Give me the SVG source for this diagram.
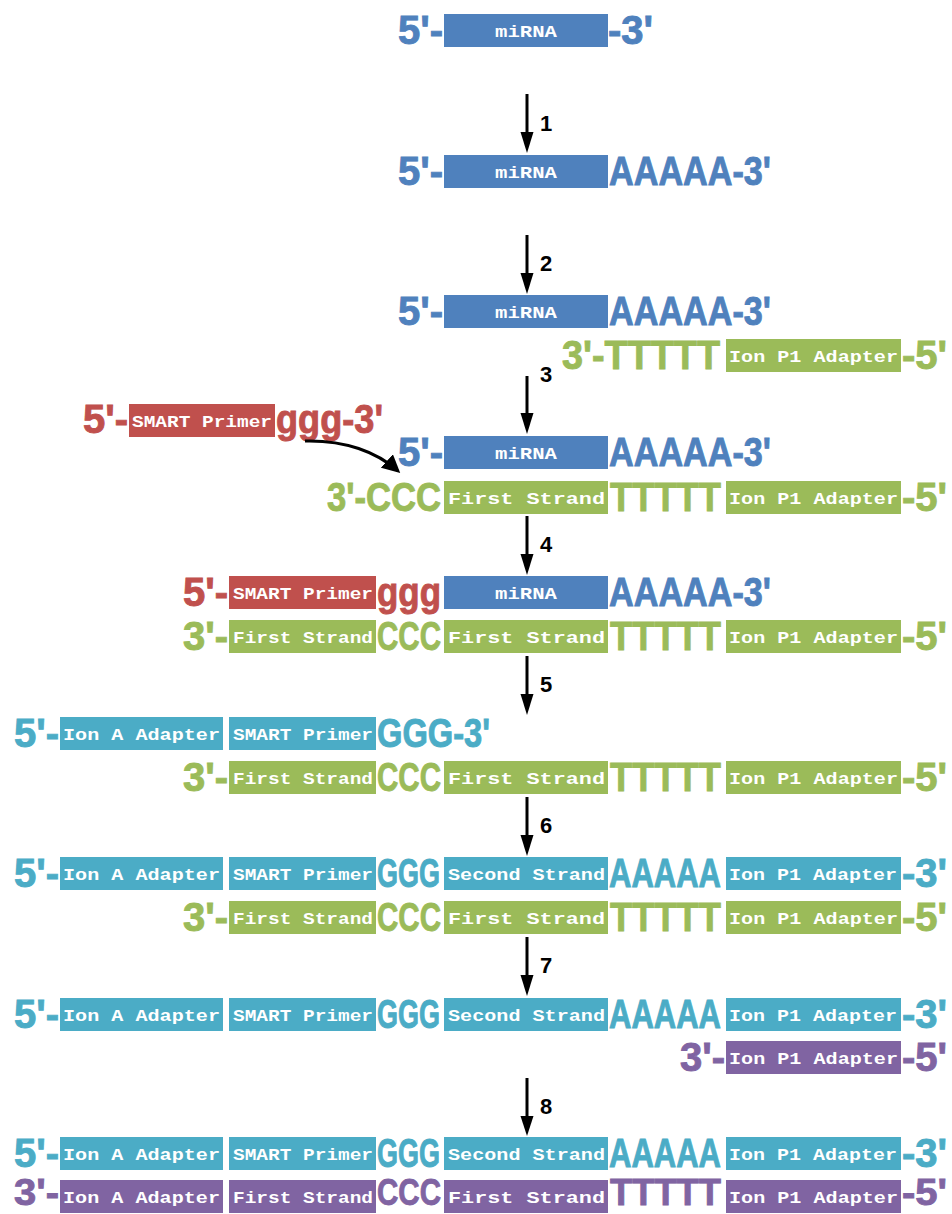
<svg xmlns="http://www.w3.org/2000/svg" width="952" height="1214" viewBox="0 0 952 1214">
<style>
.big{font-family:"Liberation Sans",Arial,sans-serif;font-weight:bold;font-size:40px;stroke-width:0.9}
.bx{font-family:"Liberation Mono","Courier New",monospace;font-weight:bold;font-size:17px;fill:#fff}
.num{font-family:"Liberation Sans",Arial,sans-serif;font-weight:bold;font-size:22px;fill:#000}
.cB{fill:#4F81BD;stroke:#4F81BD}.cG{fill:#9BBB59;stroke:#9BBB59}.cR{fill:#C0504D;stroke:#C0504D}.cT{fill:#4BACC6;stroke:#4BACC6}.cP{fill:#8064A2;stroke:#8064A2}
rect{stroke-width:0}
.sm{font-size:37px}
</style>
<defs>
<marker id="ah" markerWidth="6" markerHeight="6" refX="5" refY="3" orient="auto" markerUnits="strokeWidth">
<path d="M0,0 L6,3 L0,6 z" fill="#000"/>
</marker>
</defs>

<g id="r1-mirna">
<text class="big cB" x="443" y="44" text-anchor="end">5'-</text>
<rect class="cB" x="444" y="14" width="164" height="33"/>
<text class="bx" x="526" y="37" text-anchor="middle" textLength="62" lengthAdjust="spacingAndGlyphs">miRNA</text>
<text class="big cB" x="608" y="44">-3'</text>
</g>

<g id="r2-mirna">
<text class="big cB" x="443" y="185" text-anchor="end">5'-</text>
<rect class="cB" x="444" y="155" width="164" height="33"/>
<text class="bx" x="526" y="178" text-anchor="middle" textLength="62" lengthAdjust="spacingAndGlyphs">miRNA</text>
<text class="big cB" x="609" y="185" textLength="162" lengthAdjust="spacingAndGlyphs">AAAAA-3'</text>
</g>

<g id="r3-mirna">
<text class="big cB" x="443" y="325" text-anchor="end">5'-</text>
<rect class="cB" x="444" y="295" width="164" height="33"/>
<text class="bx" x="526" y="318" text-anchor="middle" textLength="62" lengthAdjust="spacingAndGlyphs">miRNA</text>
<text class="big cB" x="609" y="325" textLength="162" lengthAdjust="spacingAndGlyphs">AAAAA-3'</text>
</g>
<g id="r3-adapter">
<text class="big cG" x="562" y="369" textLength="158" lengthAdjust="spacingAndGlyphs">3'-TTTTT</text>
<rect class="cG" x="726" y="339" width="175" height="33"/>
<text class="bx" x="729" y="362" textLength="169" lengthAdjust="spacingAndGlyphs">Ion P1 Adapter</text>
<text class="big cG" x="902" y="369">-5'</text>
</g>

<g id="r4-smart">
<text class="big cR" x="128" y="433" text-anchor="end">5'-</text>
<rect class="cR" x="129" y="404" width="146" height="33"/>
<text class="bx" x="132" y="427" textLength="140" lengthAdjust="spacingAndGlyphs">SMART Primer</text>
<text class="big cR" x="276" y="433" textLength="107" lengthAdjust="spacingAndGlyphs">ggg-3'</text>
</g>
<g id="r4-mirna">
<text class="big cB" x="443" y="466" text-anchor="end">5'-</text>
<rect class="cB" x="444" y="436" width="164" height="33"/>
<text class="bx" x="526" y="459" text-anchor="middle" textLength="62" lengthAdjust="spacingAndGlyphs">miRNA</text>
<text class="big cB" x="609" y="466" textLength="162" lengthAdjust="spacingAndGlyphs">AAAAA-3'</text>
</g>
<g id="r4-first">
<text class="big cG" x="327" y="511" textLength="114" lengthAdjust="spacingAndGlyphs">3'-CCC</text>
<rect class="cG" x="444" y="481" width="164" height="33"/>
<text class="bx" x="448" y="504" textLength="157" lengthAdjust="spacingAndGlyphs">First Strand</text>
<text class="big cG" x="610" y="511" textLength="111" lengthAdjust="spacingAndGlyphs">TTTTT</text>
<rect class="cG" x="726" y="481" width="175" height="33"/>
<text class="bx" x="729" y="504" textLength="169" lengthAdjust="spacingAndGlyphs">Ion P1 Adapter</text>
<text class="big cG" x="902" y="511">-5'</text>
</g>

<g id="r5-top">
<text class="big cR" x="228" y="606" text-anchor="end">5'-</text>
<rect class="cR" x="229" y="576" width="147" height="33"/>
<text class="bx" x="233" y="599" textLength="140" lengthAdjust="spacingAndGlyphs">SMART Primer</text>
<text class="big cR" x="377" y="606" textLength="64" lengthAdjust="spacingAndGlyphs">ggg</text>
<rect class="cB" x="444" y="576" width="164" height="33"/>
<text class="bx" x="526" y="599" text-anchor="middle" textLength="62" lengthAdjust="spacingAndGlyphs">miRNA</text>
<text class="big cB" x="609" y="606" textLength="162" lengthAdjust="spacingAndGlyphs">AAAAA-3'</text>
</g>
<g id="r5-bottom">
<text class="big cG" x="228" y="650" text-anchor="end">3'-</text>
<rect class="cG" x="229" y="620" width="147" height="33"/>
<text class="bx" x="233" y="643" textLength="140" lengthAdjust="spacingAndGlyphs">First Strand</text>
<text class="big cG" x="377" y="650" textLength="64" lengthAdjust="spacingAndGlyphs">CCC</text>
<rect class="cG" x="444" y="620" width="164" height="33"/>
<text class="bx" x="448" y="643" textLength="157" lengthAdjust="spacingAndGlyphs">First Strand</text>
<text class="big cG" x="610" y="650" textLength="111" lengthAdjust="spacingAndGlyphs">TTTTT</text>
<rect class="cG" x="726" y="620" width="175" height="33"/>
<text class="bx" x="729" y="643" textLength="169" lengthAdjust="spacingAndGlyphs">Ion P1 Adapter</text>
<text class="big cG" x="902" y="650">-5'</text>
</g>

<g id="r6-top">
<text class="big cT" x="59" y="747" text-anchor="end">5'-</text>
<rect class="cT" x="60" y="717" width="163" height="33"/>
<text class="bx" x="63" y="740" textLength="157" lengthAdjust="spacingAndGlyphs">Ion A Adapter</text>
<rect class="cT" x="229" y="717" width="147" height="33"/>
<text class="bx" x="233" y="740" textLength="140" lengthAdjust="spacingAndGlyphs">SMART Primer</text>
<text class="big cT" x="377" y="747" textLength="113" lengthAdjust="spacingAndGlyphs">GGG-3'</text>
</g>
<g id="r6-bottom">
<text class="big cG" x="228" y="791" text-anchor="end">3'-</text>
<rect class="cG" x="229" y="761" width="147" height="33"/>
<text class="bx" x="233" y="784" textLength="140" lengthAdjust="spacingAndGlyphs">First Strand</text>
<text class="big cG" x="377" y="791" textLength="64" lengthAdjust="spacingAndGlyphs">CCC</text>
<rect class="cG" x="444" y="761" width="164" height="33"/>
<text class="bx" x="448" y="784" textLength="157" lengthAdjust="spacingAndGlyphs">First Strand</text>
<text class="big cG" x="610" y="791" textLength="111" lengthAdjust="spacingAndGlyphs">TTTTT</text>
<rect class="cG" x="726" y="761" width="175" height="33"/>
<text class="bx" x="729" y="784" textLength="169" lengthAdjust="spacingAndGlyphs">Ion P1 Adapter</text>
<text class="big cG" x="902" y="791">-5'</text>
</g>

<g id="r7-top">
<text class="big cT" x="59" y="887" text-anchor="end">5'-</text>
<rect class="cT" x="60" y="857" width="163" height="33"/>
<text class="bx" x="63" y="880" textLength="157" lengthAdjust="spacingAndGlyphs">Ion A Adapter</text>
<rect class="cT" x="229" y="857" width="147" height="33"/>
<text class="bx" x="233" y="880" textLength="140" lengthAdjust="spacingAndGlyphs">SMART Primer</text>
<text class="big cT" x="377" y="887" textLength="63" lengthAdjust="spacingAndGlyphs">GGG</text>
<rect class="cT" x="444" y="857" width="164" height="33"/>
<text class="bx" x="448" y="880" textLength="157" lengthAdjust="spacingAndGlyphs">Second Strand</text>
<text class="big cT" x="609" y="887" textLength="112" lengthAdjust="spacingAndGlyphs">AAAAA</text>
<rect class="cT" x="726" y="857" width="175" height="33"/>
<text class="bx" x="729" y="880" textLength="168" lengthAdjust="spacingAndGlyphs">Ion P1 Adapter</text>
<text class="big cT" x="902" y="887">-3'</text>
</g>
<g id="r7-bottom">
<text class="big cG" x="228" y="931" text-anchor="end">3'-</text>
<rect class="cG" x="229" y="901" width="147" height="33"/>
<text class="bx" x="233" y="924" textLength="140" lengthAdjust="spacingAndGlyphs">First Strand</text>
<text class="big cG" x="377" y="931" textLength="64" lengthAdjust="spacingAndGlyphs">CCC</text>
<rect class="cG" x="444" y="901" width="164" height="33"/>
<text class="bx" x="448" y="924" textLength="157" lengthAdjust="spacingAndGlyphs">First Strand</text>
<text class="big cG" x="610" y="931" textLength="111" lengthAdjust="spacingAndGlyphs">TTTTT</text>
<rect class="cG" x="726" y="901" width="175" height="33"/>
<text class="bx" x="729" y="924" textLength="169" lengthAdjust="spacingAndGlyphs">Ion P1 Adapter</text>
<text class="big cG" x="902" y="931">-5'</text>
</g>

<g id="r8-top">
<text class="big cT" x="59" y="1028" text-anchor="end">5'-</text>
<rect class="cT" x="60" y="998" width="163" height="33"/>
<text class="bx" x="63" y="1021" textLength="157" lengthAdjust="spacingAndGlyphs">Ion A Adapter</text>
<rect class="cT" x="229" y="998" width="147" height="33"/>
<text class="bx" x="233" y="1021" textLength="140" lengthAdjust="spacingAndGlyphs">SMART Primer</text>
<text class="big cT" x="377" y="1028" textLength="63" lengthAdjust="spacingAndGlyphs">GGG</text>
<rect class="cT" x="444" y="998" width="164" height="33"/>
<text class="bx" x="448" y="1021" textLength="157" lengthAdjust="spacingAndGlyphs">Second Strand</text>
<text class="big cT" x="609" y="1028" textLength="112" lengthAdjust="spacingAndGlyphs">AAAAA</text>
<rect class="cT" x="726" y="998" width="175" height="33"/>
<text class="bx" x="729" y="1021" textLength="168" lengthAdjust="spacingAndGlyphs">Ion P1 Adapter</text>
<text class="big cT" x="902" y="1028">-3'</text>
</g>
<g id="r8-bottom">
<text class="big cP" x="725" y="1071" text-anchor="end">3'-</text>
<rect class="cP" x="726" y="1041" width="175" height="33"/>
<text class="bx" x="729" y="1064" textLength="169" lengthAdjust="spacingAndGlyphs">Ion P1 Adapter</text>
<text class="big cP" x="902" y="1071">-5'</text>
</g>

<g id="r9-top">
<text class="big cT" x="59" y="1167" text-anchor="end">5'-</text>
<rect class="cT" x="60" y="1137" width="163" height="33"/>
<text class="bx" x="63" y="1160" textLength="157" lengthAdjust="spacingAndGlyphs">Ion A Adapter</text>
<rect class="cT" x="229" y="1137" width="147" height="33"/>
<text class="bx" x="233" y="1160" textLength="140" lengthAdjust="spacingAndGlyphs">SMART Primer</text>
<text class="big cT" x="377" y="1167" textLength="63" lengthAdjust="spacingAndGlyphs">GGG</text>
<rect class="cT" x="444" y="1137" width="164" height="33"/>
<text class="bx" x="448" y="1160" textLength="157" lengthAdjust="spacingAndGlyphs">Second Strand</text>
<text class="big cT" x="609" y="1167" textLength="112" lengthAdjust="spacingAndGlyphs">AAAAA</text>
<rect class="cT" x="726" y="1137" width="175" height="33"/>
<text class="bx" x="729" y="1160" textLength="168" lengthAdjust="spacingAndGlyphs">Ion P1 Adapter</text>
<text class="big cT" x="902" y="1167">-3'</text>
</g>
<g id="r9-bottom">
<text class="big sm cP" x="59" y="1205" text-anchor="end" textLength="45" lengthAdjust="spacingAndGlyphs">3'-</text>
<rect class="cP" x="60" y="1180" width="163" height="33"/>
<text class="bx" x="63" y="1203" textLength="157" lengthAdjust="spacingAndGlyphs">Ion A Adapter</text>
<rect class="cP" x="229" y="1180" width="147" height="33"/>
<text class="bx" x="233" y="1203" textLength="140" lengthAdjust="spacingAndGlyphs">First Strand</text>
<text class="big sm cP" x="377" y="1205" textLength="64" lengthAdjust="spacingAndGlyphs">CCC</text>
<rect class="cP" x="444" y="1180" width="164" height="33"/>
<text class="bx" x="448" y="1203" textLength="157" lengthAdjust="spacingAndGlyphs">First Strand</text>
<text class="big sm cP" x="610" y="1205" textLength="111" lengthAdjust="spacingAndGlyphs">TTTTT</text>
<rect class="cP" x="726" y="1180" width="175" height="33"/>
<text class="bx" x="729" y="1203" textLength="169" lengthAdjust="spacingAndGlyphs">Ion P1 Adapter</text>
<text class="big sm cP" x="902" y="1205" textLength="45" lengthAdjust="spacingAndGlyphs">-5'</text>
</g>

<g id="connectors" stroke="#000" stroke-width="3" fill="none">
<line x1="527" y1="94" x2="527" y2="134"/>
<line x1="527" y1="235" x2="527" y2="275"/>
<line x1="527" y1="376" x2="527" y2="415"/>
<line x1="527" y1="516" x2="527" y2="556"/>
<line x1="527" y1="656" x2="527" y2="696"/>
<line x1="527" y1="797" x2="527" y2="837"/>
<line x1="527" y1="937" x2="527" y2="977"/>
<line x1="527" y1="1078" x2="527" y2="1118"/>
<path d="M305,441 C345,440 377,452 398,471" marker-end="url(#ah)"/>
<g fill="#000" stroke="none">
<polygon points="520.5,132 533.5,132 527,153"/>
<polygon points="520.5,273 533.5,273 527,294"/>
<polygon points="520.5,413 533.5,413 527,434"/>
<polygon points="520.5,554 533.5,554 527,575"/>
<polygon points="520.5,694 533.5,694 527,715"/>
<polygon points="520.5,835 533.5,835 527,856"/>
<polygon points="520.5,975 533.5,975 527,996"/>
<polygon points="520.5,1116 533.5,1116 527,1136"/>
</g>
</g>
<g id="step-labels">
<text class="num" x="540" y="131">1</text>
<text class="num" x="540" y="271">2</text>
<text class="num" x="540" y="382">3</text>
<text class="num" x="540" y="552">4</text>
<text class="num" x="540" y="692">5</text>
<text class="num" x="540" y="833">6</text>
<text class="num" x="540" y="973">7</text>
<text class="num" x="540" y="1114">8</text>
</g>
</svg>
